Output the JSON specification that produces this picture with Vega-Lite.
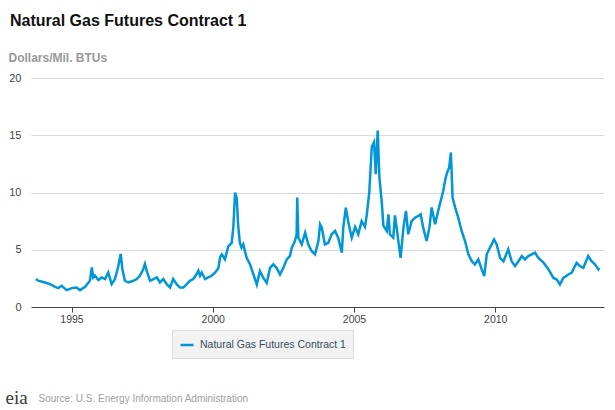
{
  "$schema": "https://vega.github.io/schema/vega-lite/v6.json",
  "width": 573,
  "height": 229,
  "autosize": "none",
  "padding": {"left": 31, "top": 78, "right": 11, "bottom": 103},
  "background": "white",
  "title": {
    "text": "Natural Gas Futures Contract 1",
    "anchor": "start",
    "frame": "group",
    "font": "Liberation Sans",
    "fontSize": 16,
    "fontWeight": "bold",
    "color": "#111111",
    "dx": -21,
    "offset": 22
  },
  "data": {
    "values": [
      {"year": 1993.74, "value": 2.44}, {"year": 1993.82, "value": 2.30}, {"year": 1994.06, "value": 2.14},
      {"year": 1994.24, "value": 2.00}, {"year": 1994.42, "value": 1.76}, {"year": 1994.53, "value": 1.65},
      {"year": 1994.65, "value": 1.85}, {"year": 1994.83, "value": 1.47}, {"year": 1995.01, "value": 1.65},
      {"year": 1995.18, "value": 1.70}, {"year": 1995.30, "value": 1.47}, {"year": 1995.48, "value": 1.76},
      {"year": 1995.65, "value": 2.29}, {"year": 1995.72, "value": 3.46}, {"year": 1995.77, "value": 2.58},
      {"year": 1995.83, "value": 2.73}, {"year": 1995.95, "value": 2.35}, {"year": 1996.07, "value": 2.58},
      {"year": 1996.19, "value": 2.44}, {"year": 1996.30, "value": 3.02}, {"year": 1996.42, "value": 2.00},
      {"year": 1996.54, "value": 2.44}, {"year": 1996.66, "value": 3.60}, {"year": 1996.74, "value": 4.64},
      {"year": 1996.80, "value": 3.32}, {"year": 1996.89, "value": 2.29}, {"year": 1997.01, "value": 2.14},
      {"year": 1997.19, "value": 2.29}, {"year": 1997.31, "value": 2.44}, {"year": 1997.42, "value": 2.73},
      {"year": 1997.54, "value": 3.30}, {"year": 1997.60, "value": 3.76}, {"year": 1997.66, "value": 3.17},
      {"year": 1997.78, "value": 2.29}, {"year": 1997.90, "value": 2.44}, {"year": 1998.02, "value": 2.58},
      {"year": 1998.13, "value": 2.14}, {"year": 1998.25, "value": 2.44}, {"year": 1998.37, "value": 2.00},
      {"year": 1998.49, "value": 1.70}, {"year": 1998.60, "value": 2.44}, {"year": 1998.72, "value": 2.00},
      {"year": 1998.84, "value": 1.70}, {"year": 1998.96, "value": 1.70}, {"year": 1999.08, "value": 2.00},
      {"year": 1999.19, "value": 2.29}, {"year": 1999.31, "value": 2.44}, {"year": 1999.43, "value": 2.88},
      {"year": 1999.49, "value": 3.17}, {"year": 1999.55, "value": 2.73}, {"year": 1999.61, "value": 3.02},
      {"year": 1999.73, "value": 2.44}, {"year": 1999.84, "value": 2.58}, {"year": 1999.96, "value": 2.73},
      {"year": 2000.08, "value": 3.00}, {"year": 2000.20, "value": 3.40}, {"year": 2000.26, "value": 4.35},
      {"year": 2000.32, "value": 4.60}, {"year": 2000.43, "value": 4.16}, {"year": 2000.55, "value": 5.30},
      {"year": 2000.67, "value": 5.60}, {"year": 2000.73, "value": 7.00}, {"year": 2000.76, "value": 8.50},
      {"year": 2000.79, "value": 10.00}, {"year": 2000.85, "value": 9.50}, {"year": 2000.90, "value": 7.10},
      {"year": 2000.96, "value": 5.60}, {"year": 2001.02, "value": 5.18}, {"year": 2001.08, "value": 5.47},
      {"year": 2001.20, "value": 4.30}, {"year": 2001.32, "value": 3.72}, {"year": 2001.44, "value": 2.84},
      {"year": 2001.56, "value": 1.96}, {"year": 2001.67, "value": 3.13}, {"year": 2001.79, "value": 2.54},
      {"year": 2001.91, "value": 2.10}, {"year": 2002.03, "value": 3.42}, {"year": 2002.14, "value": 3.72},
      {"year": 2002.26, "value": 3.42}, {"year": 2002.38, "value": 2.84}, {"year": 2002.50, "value": 3.42},
      {"year": 2002.62, "value": 4.16}, {"year": 2002.73, "value": 4.45}, {"year": 2002.80, "value": 5.18},
      {"year": 2002.91, "value": 5.76}, {"year": 2002.97, "value": 6.35}, {"year": 2002.99, "value": 9.56},
      {"year": 2003.03, "value": 6.05}, {"year": 2003.15, "value": 5.47}, {"year": 2003.27, "value": 6.49},
      {"year": 2003.38, "value": 5.47}, {"year": 2003.50, "value": 4.89}, {"year": 2003.62, "value": 4.60},
      {"year": 2003.74, "value": 5.76}, {"year": 2003.80, "value": 7.22}, {"year": 2003.86, "value": 6.93},
      {"year": 2003.97, "value": 5.47}, {"year": 2004.09, "value": 5.61}, {"year": 2004.21, "value": 6.35},
      {"year": 2004.33, "value": 6.64}, {"year": 2004.44, "value": 6.05}, {"year": 2004.57, "value": 4.74},
      {"year": 2004.62, "value": 6.93}, {"year": 2004.71, "value": 8.68}, {"year": 2004.80, "value": 7.40},
      {"year": 2004.92, "value": 6.05}, {"year": 2005.04, "value": 7.00}, {"year": 2005.15, "value": 6.35},
      {"year": 2005.27, "value": 7.50}, {"year": 2005.39, "value": 7.00}, {"year": 2005.45, "value": 8.00},
      {"year": 2005.54, "value": 10.00}, {"year": 2005.63, "value": 14.00}, {"year": 2005.71, "value": 14.40},
      {"year": 2005.77, "value": 11.60}, {"year": 2005.84, "value": 15.40}, {"year": 2005.90, "value": 11.30},
      {"year": 2005.98, "value": 9.27}, {"year": 2006.04, "value": 7.10}, {"year": 2006.16, "value": 6.64},
      {"year": 2006.22, "value": 8.10}, {"year": 2006.27, "value": 6.35}, {"year": 2006.39, "value": 6.05},
      {"year": 2006.45, "value": 8.00}, {"year": 2006.51, "value": 6.93}, {"year": 2006.57, "value": 5.76},
      {"year": 2006.65, "value": 4.30}, {"year": 2006.75, "value": 6.93}, {"year": 2006.84, "value": 8.40},
      {"year": 2006.92, "value": 6.35}, {"year": 2007.04, "value": 7.50}, {"year": 2007.16, "value": 7.80},
      {"year": 2007.28, "value": 7.95}, {"year": 2007.36, "value": 8.10}, {"year": 2007.45, "value": 6.93},
      {"year": 2007.57, "value": 5.76}, {"year": 2007.67, "value": 6.93}, {"year": 2007.75, "value": 8.70},
      {"year": 2007.87, "value": 7.22}, {"year": 2007.98, "value": 8.40}, {"year": 2008.10, "value": 9.56},
      {"year": 2008.16, "value": 10.15}, {"year": 2008.22, "value": 11.00}, {"year": 2008.28, "value": 11.60},
      {"year": 2008.37, "value": 12.20}, {"year": 2008.43, "value": 13.50}, {"year": 2008.49, "value": 9.56},
      {"year": 2008.58, "value": 8.70}, {"year": 2008.69, "value": 7.80}, {"year": 2008.81, "value": 6.64},
      {"year": 2008.93, "value": 5.76}, {"year": 2009.05, "value": 4.60}, {"year": 2009.17, "value": 4.00},
      {"year": 2009.28, "value": 3.72}, {"year": 2009.40, "value": 4.16}, {"year": 2009.52, "value": 3.28},
      {"year": 2009.61, "value": 2.70}, {"year": 2009.70, "value": 4.60}, {"year": 2009.81, "value": 5.18},
      {"year": 2009.96, "value": 5.90}, {"year": 2010.05, "value": 5.47}, {"year": 2010.17, "value": 4.30},
      {"year": 2010.29, "value": 4.00}, {"year": 2010.46, "value": 5.03}, {"year": 2010.58, "value": 4.00},
      {"year": 2010.70, "value": 3.57}, {"year": 2010.82, "value": 4.00}, {"year": 2010.94, "value": 4.45},
      {"year": 2011.05, "value": 4.16}, {"year": 2011.17, "value": 4.45}, {"year": 2011.29, "value": 4.60},
      {"year": 2011.41, "value": 4.74}, {"year": 2011.52, "value": 4.30}, {"year": 2011.70, "value": 3.90},
      {"year": 2011.88, "value": 3.30}, {"year": 2012.06, "value": 2.54}, {"year": 2012.18, "value": 2.40},
      {"year": 2012.29, "value": 1.96}, {"year": 2012.41, "value": 2.54}, {"year": 2012.59, "value": 2.84},
      {"year": 2012.71, "value": 3.00}, {"year": 2012.88, "value": 3.86}, {"year": 2013.00, "value": 3.57},
      {"year": 2013.12, "value": 3.42}, {"year": 2013.29, "value": 4.45}, {"year": 2013.41, "value": 4.00},
      {"year": 2013.53, "value": 3.72}, {"year": 2013.65, "value": 3.28}, {"year": 2013.68, "value": 3.42}
    ]
  },
  "layer": [
    {
      "mark": {"type": "line", "strokeWidth": 2.5, "clip": true},
      "encoding": {
        "x": {
          "field": "year",
          "type": "quantitative",
          "scale": {"domain": [1993.566, 2013.85], "nice": false, "zero": false},
          "axis": {
            "values": [1995, 2000, 2005, 2010],
            "format": "d",
            "grid": false,
            "domainColor": "#444444",
            "domainWidth": 1,
            "tickColor": "#444444",
            "tickSize": 5,
            "labelFont": "Liberation Sans",
            "labelFontSize": 10.5,
            "labelColor": "#444444",
            "labelPadding": 2,
            "labelFlush": false,
            "title": "Source: U.S. Energy Information Administration",
            "titleFont": "Liberation Sans",
            "titleFontSize": 10,
            "titleFontWeight": "normal",
            "titleColor": "#a0a0a0",
            "titleAlign": "left",
            "titleBaseline": "alphabetic",
            "titleX": 7,
            "titleY": 94
          }
        },
        "y": {
          "field": "value",
          "type": "quantitative",
          "scale": {"domain": [0, 20], "nice": false},
          "axis": {
            "title": "Dollars/Mil. BTUs",
            "titleAngle": 0,
            "titleAlign": "left",
            "titleBaseline": "alphabetic",
            "titleX": -23,
            "titleY": -17,
            "titleFont": "Liberation Sans",
            "titleFontSize": 12,
            "titleFontWeight": "bold",
            "titleColor": "#999999",
            "values": [0, 5, 10, 15, 20],
            "domain": false,
            "ticks": false,
            "labelPadding": 10,
            "labelFont": "Liberation Sans",
            "labelFontSize": 11,
            "labelColor": "#444444",
            "gridColor": "#d9d9d9",
            "gridWidth": 1
          }
        },
        "color": {
          "datum": "Natural Gas Futures Contract 1",
          "scale": {"range": ["#0096d7"]},
          "legend": {
            "orient": "none",
            "legendX": 141,
            "legendY": 252,
            "title": null,
            "fillColor": "#f2f2f2",
            "strokeColor": "#dcdcdc",
            "padding": 7,
            "symbolType": "stroke",
            "symbolSize": 169,
            "symbolStrokeWidth": 2.5,
            "labelFont": "Liberation Sans",
            "labelFontSize": 10.5,
            "labelLimit": 400,
            "labelColor": "#3a4a5c",
            "labelOffset": 5
          }
        }
      }
    },
    {
      "mark": {"type": "line", "opacity": 0},
      "encoding": {
        "x": {
          "field": "year",
          "type": "quantitative",
          "scale": {"domain": [1993.566, 2013.85], "nice": false, "zero": false},
          "axis": {
            "orient": "top",
            "domain": false,
            "ticks": false,
            "labels": false,
            "grid": false,
            "title": "eia",
            "titleFont": "Liberation Serif",
            "titleFontSize": 19,
            "titleFontWeight": "normal",
            "titleColor": "#3a3a3a",
            "titleAlign": "left",
            "titleBaseline": "alphabetic",
            "titleX": -26,
            "titleY": 325
          }
        },
        "y": {"field": "value", "type": "quantitative"}
      }
    }
  ],
  "resolve": {"axis": {"x": "independent"}},
  "config": {"view": {"stroke": null}}
}
